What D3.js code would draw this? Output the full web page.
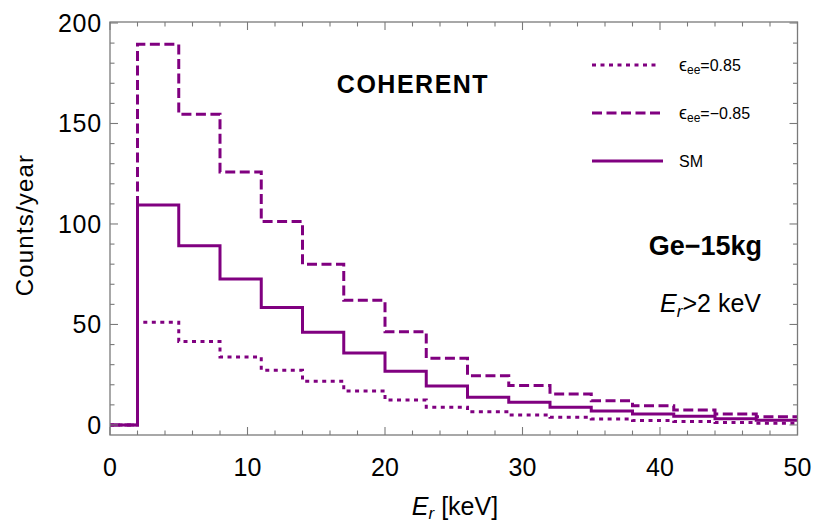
<!DOCTYPE html>
<html><head><meta charset="utf-8">
<script src="https://cdn.jsdelivr.net/npm/d3@7"></script>
<style>
body{margin:0;background:#fff}
text{font-family:"Liberation Sans",Arial,Helvetica,sans-serif;fill:#000}
</style>
</head><body>
<svg id="c" width="816" height="525"></svg>
<script>
// ---- data ----
const binEdges = [2,5,8,11,14,17,20,23,26,29,32,35,38,41,44,47,50];
const smCounts  = [109.5,89.2,72.6,58.5,46.1,35.8,26.7,19.4,13.8,11.3,8.8,7.0,5.5,4.3,3.1,2.3];
const negCounts = [189.4,154.6,125.9,101.2,80.0,62.0,46.4,33.2,24.5,19.6,15.4,12.1,9.6,7.5,5.5,4.1];
const posCounts = [51.1,41.5,33.8,27.2,21.7,16.9,12.4,8.8,6.6,5.0,3.8,3.0,2.2,1.7,1.2,0.9];
const xTicks = [0,10,20,30,40,50];
const yTicks = [0,50,100,150,200];
const seriesNames = ["pos","neg","sm"];
const legendLabels = ["=0.85","=\u22120.85","SM"];

const svg = d3.select("#c");
const L = 110, R = 797.5, T = 22, B = 435;
const x = d3.scaleLinear().domain([0,50]).range([L,R]);
const y = d3.scaleLinear().domain([-5,200.5]).range([B,T]);
const purple = "#800080";
const frameCol = "#7a7a7a";

svg.append("rect").attr("width",816).attr("height",525).attr("fill","#fff");

svg.append("clipPath").attr("id","clip").append("rect")
  .attr("x",L).attr("y",T).attr("width",R-L).attr("height",B-T);

function pts(vals){
  const p = [[0,0]];
  vals.forEach((v,i)=>p.push([binEdges[i],v]));
  p.push([binEdges[binEdges.length-1], vals[vals.length-1]]);
  return p;
}
const line = d3.line().x(d=>x(d[0])).y(d=>y(d[1])).curve(d3.curveStepAfter);

const styles = {
  pos:{data:posCounts, dash:"4,4.5", w:3},
  neg:{data:negCounts, dash:"10,4.5", w:3},
  sm:{data:smCounts, dash:null, w:3}
};
const g = svg.append("g").attr("clip-path","url(#clip)");
["neg","pos","sm"].forEach(k=>{
  const s = styles[k];
  g.append("path").attr("d",line(pts(s.data)))
    .attr("fill","none").attr("stroke",purple).attr("stroke-width",s.w)
    .attr("stroke-dasharray",s.dash).attr("stroke-linejoin","miter").attr("stroke-linecap","butt");
});

svg.append("rect").attr("x",L).attr("y",T).attr("width",R-L).attr("height",B-T)
  .attr("fill","none").attr("stroke",frameCol).attr("stroke-width",1.3);

const xMinor = d3.range(0,51,2);
const yMinor = d3.range(0,201,10);
const tk = svg.append("g").attr("stroke",frameCol).attr("stroke-width",1.1);
xMinor.forEach(v=>{
  const len = v%10===0 ? 8 : 4.5;
  tk.append("line").attr("x1",x(v)).attr("x2",x(v)).attr("y1",B).attr("y2",B-len);
  tk.append("line").attr("x1",x(v)).attr("x2",x(v)).attr("y1",T).attr("y2",T+len);
});
yMinor.forEach(v=>{
  const len = v%50===0 ? 8 : 4.5;
  tk.append("line").attr("y1",y(v)).attr("y2",y(v)).attr("x1",L).attr("x2",L+len);
  tk.append("line").attr("y1",y(v)).attr("y2",y(v)).attr("x1",R).attr("x2",R-len);
});

svg.append("g").selectAll("text").data(xTicks).join("text")
  .attr("x",d=>x(d)).attr("y",476).attr("text-anchor","middle")
  .attr("font-size",25).text(d=>d);
svg.append("g").selectAll("text").data(yTicks).join("text")
  .attr("x",102).attr("y",d=>y(d)+9).attr("text-anchor","end")
  .attr("font-size",25).attr("letter-spacing",0.8).text(d=>d);

svg.append("text").attr("transform","translate(33,225) rotate(-90)")
  .attr("text-anchor","middle").attr("font-size",24).attr("letter-spacing",1.2).text("Counts/year");
const xl = svg.append("text").attr("x",455).attr("y",515).attr("text-anchor","middle").attr("font-size",25);
xl.append("tspan").attr("font-style","italic").text("E");
xl.append("tspan").attr("font-style","italic").attr("font-size",17).attr("dy",4).text("r");
xl.append("tspan").attr("dy",-4).text(" [keV]");

svg.append("text").attr("x",413).attr("y",93).attr("text-anchor","middle")
  .attr("font-size",25).attr("font-weight","bold").attr("letter-spacing",1.5).text("COHERENT");
svg.append("text").attr("x",762).attr("y",255).attr("text-anchor","end")
  .attr("font-size",27).attr("font-weight","bold").text("Ge\u221215kg");
const er = svg.append("text").attr("x",761).attr("y",312).attr("text-anchor","end").attr("font-size",25);
er.append("tspan").attr("font-style","italic").text("E");
er.append("tspan").attr("font-style","italic").attr("font-size",17).attr("dy",5).text("r");
er.append("tspan").attr("dy",-5).text(">2 keV");

const legY = [65,113,161];
seriesNames.forEach((k,i)=>{
  const s = styles[k];
  svg.append("line").attr("x1",592).attr("x2",k==="sm"?663:660).attr("y1",legY[i]).attr("y2",legY[i])
    .attr("stroke",purple).attr("stroke-width",s.w).attr("stroke-dasharray",s.dash);
  const t = svg.append("text").attr("x",679).attr("y",legY[i]+6).attr("font-size",16);
  if(k!=="sm"){
    t.append("tspan").attr("font-size",18).text("\u03F5");
    t.append("tspan").attr("font-size",12).attr("dy",3).text("ee");
    t.append("tspan").attr("dy",-3).text(legendLabels[i]);
  } else {
    t.text(legendLabels[i]);
  }
});
</script>
</body></html>
